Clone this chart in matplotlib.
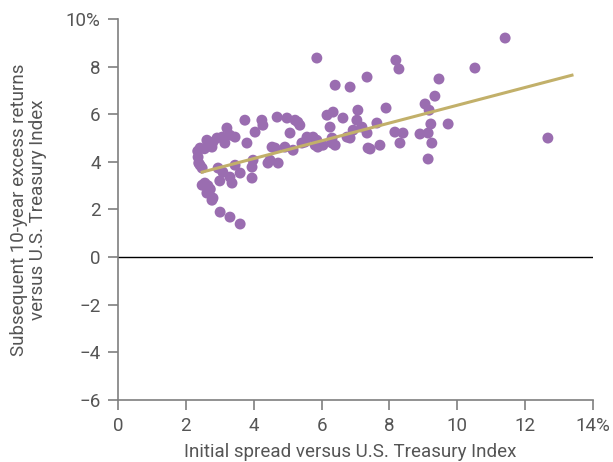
import numpy as np
import matplotlib.pyplot as plt

plt.rcParams["font.family"] = ["Roboto", "DejaVu Sans"]

# initial spread (%) and subsequent 10-year excess return (%)
spread = [
    2.42, 2.36, 2.42, 2.56, 2.62, 2.77, 3.01, 3.30, 3.60, 2.77,
    2.92, 3.21, 3.30, 3.45, 3.80, 3.74, 4.24, 4.27, 4.04, 3.09,
    3.30, 3.60, 3.36, 3.95, 3.98, 3.95, 4.42, 4.72, 4.63, 4.92,
    4.69, 4.98, 5.22, 5.36, 5.07, 5.16, 5.51, 5.86, 6.40, 6.84,
    7.34, 6.16, 6.34, 6.63, 6.25, 6.31, 5.86, 5.89, 5.75, 6.40,
    6.75, 6.84, 7.07, 7.04, 7.19, 7.34, 7.63, 7.37, 7.72, 6.93,
    8.19, 8.28, 11.41, 10.52, 9.46, 7.90, 8.16, 8.40, 8.31, 7.43,
    9.05, 9.17, 9.34, 9.22, 9.73, 8.90, 9.14, 9.25, 9.14, 12.67,
    4.54, 5.42, 5.81, 6.04, 6.31, 4.48, 5.57, 5.30, 2.62, 3.07,
    3.15, 2.80, 2.48, 2.95, 3.00, 3.45, 2.48, 2.80, 2.35, 2.38,
    2.55, 2.65, 2.72,
]
excess = [
    4.58, 4.20, 3.86, 3.11, 2.69, 2.39, 1.89, 1.68, 1.39, 4.62,
    5.00, 5.42, 5.12, 5.04, 4.79, 5.75, 5.75, 5.54, 5.25, 3.57,
    3.36, 3.53, 3.11, 3.78, 4.07, 3.32, 3.95, 3.95, 4.58, 4.62,
    5.88, 5.84, 5.75, 5.54, 5.21, 4.49, 4.83, 8.36, 7.22, 7.14,
    7.56, 5.96, 6.09, 5.84, 5.46, 5.00, 4.91, 4.62, 5.04, 4.70,
    5.04, 5.00, 6.17, 5.75, 5.46, 5.21, 5.63, 4.58, 4.70, 5.33,
    8.27, 7.90, 9.20, 7.94, 7.48, 6.26, 5.25, 5.21, 4.79, 4.54,
    6.43, 6.17, 6.76, 5.59, 5.59, 5.17, 5.21, 4.79, 4.12, 5.00,
    4.62, 4.79, 4.70, 4.70, 4.79, 4.07, 5.04, 5.67, 4.91, 5.04,
    4.79, 4.83, 3.74, 3.74, 3.20, 3.86, 3.02, 2.48, 4.45, 3.95,
    4.55, 3.00, 2.85,
]

# fitted trend line end points
trend_x = [2.48, 13.38]
trend_y = [3.57, 7.64]

x_ticks = [0, 2, 4, 6, 8, 10, 12, 14]
x_labels = ["0", "2", "4", "6", "8", "10", "12", "14%"]
y_ticks = [-6, -4, -2, 0, 2, 4, 6, 8, 10]
y_labels = ["\u22126", "\u22124", "\u22122", "0", "2", "4", "6", "8", "10%"]

text_color = "#555555"

fig = plt.figure(figsize=(6.13, 4.62), dpi=100)
ax = fig.add_axes([0.1925, 0.1342, 0.7749, 0.8247])

ax.scatter(spread, excess, s=62, color="#9a6db0", edgecolors="none", zorder=2)
ax.plot(trend_x, trend_y, color="#c2b06a", linewidth=2.2, zorder=3)
ax.axhline(0, color="black", linewidth=1, zorder=1)

ax.set_xlim(0, 14)
ax.set_ylim(-6, 10)
ax.set_xticks(x_ticks)
ax.set_xticklabels(x_labels)
ax.set_yticks(y_ticks)
ax.set_yticklabels(y_labels)

for side in ["top", "right"]:
    ax.spines[side].set_visible(False)
for side in ["left", "bottom"]:
    ax.spines[side].set_color("#7f7f7f")
    ax.spines[side].set_linewidth(1.2)

ax.tick_params(direction="out", length=7, width=1.2, color="#7f7f7f",
               labelsize=13.5, labelcolor=text_color, pad=5.5)

ax.set_xlabel("Initial spread versus U.S. Treasury Index",
              fontsize=13.5, color=text_color)
ax.xaxis.set_label_coords(0.488, -0.112)
ax.set_ylabel("Subsequent 10-year excess returns\nversus U.S. Treasury Index",
              fontsize=13.5, color=text_color, linespacing=1.05)
ax.yaxis.set_label_coords(-0.15, 0.5)

fig.savefig("out.png", dpi=100)
